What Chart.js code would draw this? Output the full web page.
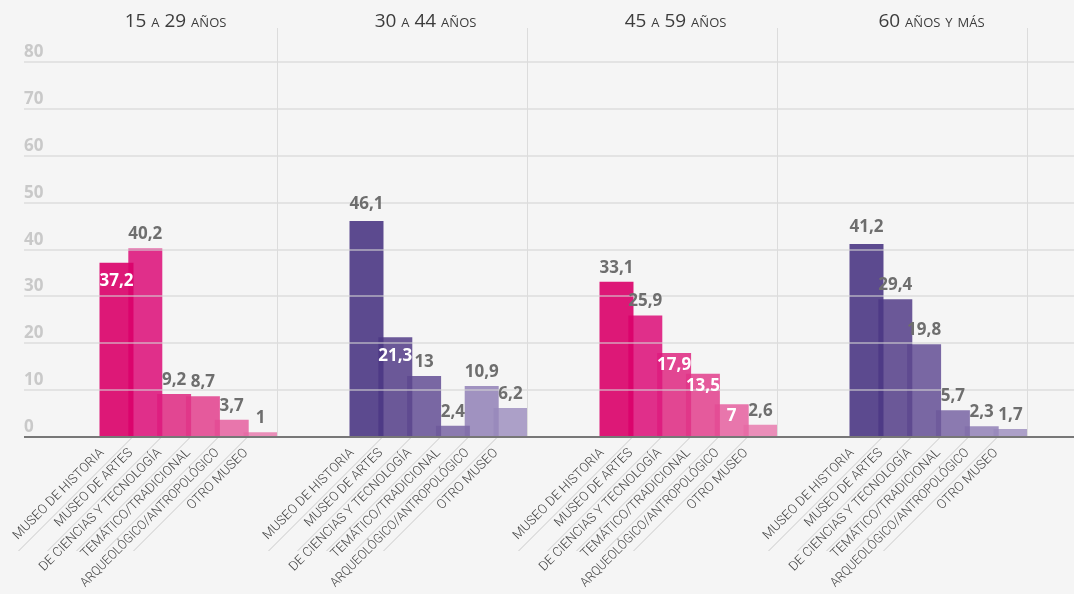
<!DOCTYPE html>
<html lang="es">
<head>
<meta charset="utf-8">
<title>Visitas a museos por tipo y grupo de edad</title>
<script src="https://cdn.jsdelivr.net/npm/chart.js@4.4.1/dist/chart.umd.min.js"></script>
<style>
  html, body { margin: 0; padding: 0; background: #f5f5f5; }
  canvas { display: block; }
</style>
</head>
<body>
<canvas id="grafico" width="1074" height="594"></canvas>
<script>
// ---- Datos ----
const gruposEdad = ['15 a 29 años', '30 a 44 años', '45 a 59 años', '60 años y más'];
const tiposMuseo = [
  'MUSEO DE HISTORIA',
  'MUSEO DE ARTES',
  'DE CIENCIAS Y TECNOLOGÍA',
  'TEMÁTICO/TRADICIONAL',
  'ARQUEOLÓGICO/ANTROPOLÓGICO',
  'OTRO MUSEO'
];
const edad15a29 = [37.2, 40.2, 9.2, 8.7, 3.7, 1];
const edad30a44 = [46.1, 21.3, 13, 2.4, 10.9, 6.2];
const edad45a59 = [33.1, 25.9, 17.9, 13.5, 7, 2.6];
const edad60ymas = [41.2, 29.4, 19.8, 5.7, 2.3, 1.7];
const marcasY = [0, 10, 20, 30, 40, 50, 60, 70, 80];

// ---- Estilo ----
const rosas = [
  'rgba(218,0,105,0.9)', 'rgba(222,26,126,0.9)', 'rgba(224,51,135,0.9)',
  'rgba(227,73,146,0.9)', 'rgba(231,104,164,0.9)', 'rgba(233,131,179,0.9)'
];
const morados = [
  'rgba(75,55,132,0.9)', 'rgba(92,71,142,0.9)', 'rgba(108,88,154,0.9)',
  'rgba(128,109,168,0.9)', 'rgba(151,135,186,0.9)', 'rgba(164,151,195,0.9)'
];
// cifras que van en blanco dentro de la barra
const cifraDentro = [
  [true, false, false, false, false, false],
  [false, true, false, false, false, false],
  [false, false, true, true, true, false],
  [false, false, false, false, false, false]
];
const FUENTE = '"Open Sans", "DejaVu Sans", sans-serif';
const FUENTE_ROTULO = 'Roboto, "Open Sans", sans-serif';
const ANCHO_MAX_ROTULO = 190;
const fmt = v => String(v).replace('.', ',');

const series = [edad15a29, edad30a44, edad45a59, edad60ymas];
const datasets = tiposMuseo.map((tipo, i) => ({
  label: tipo,
  data: series.map(s => s[i]),
  backgroundColor: gruposEdad.map((g, k) => (k % 2 === 0 ? rosas : morados)[i]),
  borderWidth: 0,
  categoryPercentage: 0.6912,
  barPercentage: 1.18
}));

const fondo = {
  id: 'fondo',
  beforeDraw(chart) {
    const { ctx, width, height } = chart;
    ctx.save();
    ctx.fillStyle = '#f5f5f5';
    ctx.fillRect(0, 0, width, height);
    ctx.restore();
  }
};

const decorado = {
  id: 'decorado',
  afterDatasetsDraw(chart) {
    const { ctx, scales: { x, y } } = chart;
    const base = Math.round(y.getPixelForValue(0));
    const izq = 24, der = chart.width;
    ctx.save();

    // líneas de rejilla por encima de las barras
    ctx.lineWidth = 2;
    ctx.strokeStyle = 'rgba(212,212,212,0.55)';
    y.ticks.forEach(t => {
      if (t.value === 0) return;
      const py = Math.round(y.getPixelForValue(t.value));
      ctx.beginPath();
      ctx.moveTo(izq, py);
      ctx.lineTo(der, py);
      ctx.stroke();
    });

    // separadores verticales de cada grupo
    ctx.lineWidth = 1;
    ctx.strokeStyle = '#dcdcdc';
    const ultimo = chart.getDatasetMeta(tiposMuseo.length - 1);
    gruposEdad.forEach((g, k) => {
      const el = ultimo.data[k];
      const sx = Math.round(el.x + el.width / 2) + 0.5;
      ctx.beginPath();
      ctx.moveTo(sx, 28);
      ctx.lineTo(sx, base);
      ctx.stroke();
    });

    // eje horizontal
    ctx.lineWidth = 2;
    ctx.strokeStyle = '#777777';
    ctx.beginPath();
    ctx.moveTo(izq, base);
    ctx.lineTo(der, base);
    ctx.stroke();

    // etiquetas del eje vertical
    ctx.font = '700 17px ' + FUENTE;
    ctx.fillStyle = '#c9c9c9';
    ctx.textAlign = 'left';
    ctx.textBaseline = 'alphabetic';
    y.ticks.forEach(t => {
      const py = Math.round(y.getPixelForValue(t.value));
      ctx.fillText(String(t.value), izq, py - 5);
    });

    // cifras de cada barra
    ctx.textAlign = 'center';
    ctx.textBaseline = 'middle';
    tiposMuseo.forEach((tipo, i) => {
      const meta = chart.getDatasetMeta(i);
      meta.data.forEach((el, k) => {
        const v = chart.data.datasets[i].data[k];
        if (cifraDentro[k][i]) {
          ctx.fillStyle = '#ffffff';
          ctx.fillText(fmt(v), el.x, el.y + (k === 2 ? 12 : 19));
        } else {
          ctx.fillStyle = '#6e6e6e';
          ctx.fillText(fmt(v), el.x, el.y - (i === 0 && k !== 2 ? 17 : 14));
        }
      });
    });

    // rótulos inclinados de tipo de museo y sus guías
    ctx.font = '300 13px ' + FUENTE_ROTULO;
    ctx.fillStyle = '#444444';
    gruposEdad.forEach((g, k) => {
      tiposMuseo.forEach((tipo, i) => {
        const el = chart.getDatasetMeta(i).data[k];
        if (i > 0) {
          const prev = chart.getDatasetMeta(i - 1).data[k];
          const bx = Math.round((prev.x + el.x) / 2) + 0.5;
          ctx.strokeStyle = '#cbcbcb';
          ctx.lineWidth = 1;
          ctx.beginPath();
          ctx.moveTo(bx, base + 1);
          ctx.lineTo(bx - 113, base + 114);
          ctx.stroke();
        }
        const ancho = ctx.measureText(tipo).width;
        const esc = Math.min(1, ANCHO_MAX_ROTULO / ancho);
        ctx.save();
        ctx.translate(el.x, base);
        ctx.rotate(-Math.PI / 4);
        ctx.scale(esc, 1);
        ctx.textAlign = 'right';
        ctx.textBaseline = 'alphabetic';
        ctx.fillText(tipo, -20 / esc, 3);
        ctx.restore();
      });
    });

    // títulos de cada grupo de edad
    ctx.font = 'small-caps 400 19px ' + FUENTE;
    ctx.fillStyle = '#3c3c3c';
    ctx.textAlign = 'center';
    ctx.textBaseline = 'alphabetic';
    gruposEdad.forEach((g, k) => {
      ctx.fillText(g, x.getPixelForValue(k) - 13 + (k === 3 ? 6 : 0), 27);
    });

    ctx.restore();
  }
};

new Chart(document.getElementById('grafico'), {
  type: 'bar',
  data: { labels: gruposEdad, datasets },
  options: {
    responsive: false,
    animation: false,
    devicePixelRatio: 1,
    layout: { padding: { left: 63.5, right: 10.5, top: 62, bottom: 157 } },
    plugins: { legend: { display: false }, tooltip: { enabled: false } },
    scales: {
      x: { display: false },
      y: {
        display: false,
        min: 0,
        max: 80,
        afterBuildTicks: s => { s.ticks = marcasY.map(v => ({ value: v })); }
      }
    }
  },
  plugins: [fondo, decorado]
});
</script>
</body>
</html>
